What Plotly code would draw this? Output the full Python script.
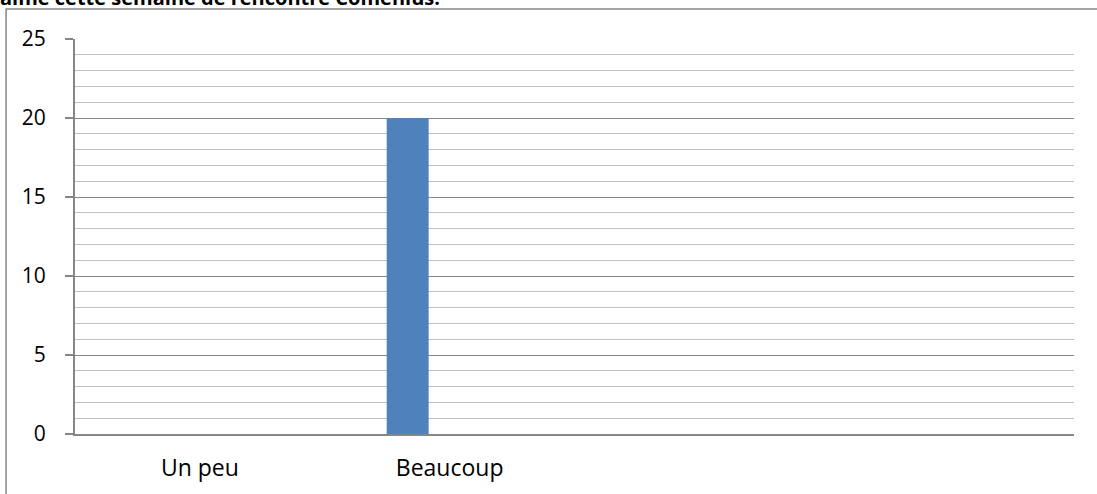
import plotly.graph_objects as go

categories = ["Un peu", "Beaucoup", "", ""]
serie1 = [0, 20, 0, 0]
serie2 = [0, 0, 0, 0]
serie3 = [0, 0, 0, 0]
y_ticks = [0, 5, 10, 15, 20, 25]
title_text = "aime cette semaine de rencontre Comenius."

FONT = "Open Sans"
x_idx = list(range(len(categories)))

fig = go.Figure()
for name, vals in [("Série 1", serie1), ("Série 2", serie2), ("Série 3", serie3)]:
    fig.add_trace(go.Bar(x=x_idx, y=vals, name=name, marker=dict(color="#4f81bd", line=dict(width=0)),
                         hoverinfo="skip"))

fig.update_layout(
    width=1097, height=494,
    margin=dict(l=75, r=23, t=39, b=60, autoexpand=False),
    paper_bgcolor="white", plot_bgcolor="white",
    barmode="group", bargap=0.496, bargroupgap=0,
    showlegend=False,
    font=dict(family=FONT, size=18, color="black"),
)
fig.update_xaxes(
    tickmode="array", tickvals=x_idx, ticktext=categories,
    range=[-0.5, len(categories) - 0.5],
    showgrid=False, zeroline=False,
    showline=True, linecolor="#868686", linewidth=2,
    ticks="", tickfont=dict(family=FONT, size=23, color="black"),
    ticklabelstandoff=12,
    fixedrange=True,
)
fig.update_yaxes(
    range=[0, 25], tickmode="array", tickvals=y_ticks,
    showgrid=True, gridcolor="#868686", gridwidth=1.3,
    zeroline=False,
    showline=True, linecolor="#868686", linewidth=2,
    ticks="outside", ticklen=8, tickcolor="#868686", tickwidth=2,
    tickfont=dict(family=FONT, size=21, color="black"),
    ticklabelstandoff=15,
    minor=dict(dtick=1, showgrid=True, gridcolor="#c0c0c0", gridwidth=1.3, ticks=""),
    fixedrange=True,
)

# outer chart border (cropped at right and bottom)
fig.add_shape(type="rect", xref="paper", yref="paper",
              x0=-0.069, x1=1.2, y0=-0.3, y1=1.076,
              line=dict(color="#868686", width=1.5), fillcolor="rgba(0,0,0,0)", layer="below")

fig.add_annotation(text="<b>" + title_text + "</b>", xref="paper", yref="paper",
                   x=-0.077, y=1.066, xanchor="left", yanchor="bottom", showarrow=False,
                   font=dict(family=FONT, size=20, color="black"))

fig.write_html("out.html", config={"displayModeBar": False},
               post_script="document.body.style.margin='0';")
